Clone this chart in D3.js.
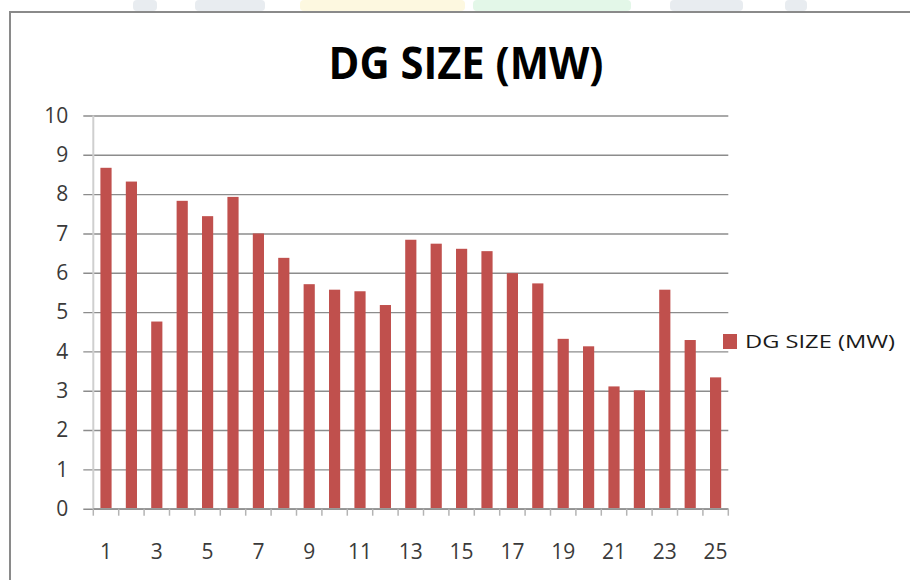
<!DOCTYPE html>
<html>
<head>
<meta charset="utf-8">
<script src="https://cdn.jsdelivr.net/npm/d3@7"></script>
<style>
    body { margin: 0; background: #fff; }
    svg { display: block; font-family: "Open Sans", "Noto Sans", sans-serif; }
</style>
</head>
<body>
<div id="svgContainer"></div>
<script>
var categories = [1, 2, 3, 4, 5, 6, 7, 8, 9, 10, 11, 12, 13, 14, 15, 16, 17, 18, 19, 20, 21, 22, 23, 24, 25]
var dgSize = [8.67, 8.32, 4.76, 7.83, 7.44, 7.93, 7.0, 6.38, 5.71, 5.57, 5.53, 5.18, 6.84,
    6.74, 6.61, 6.55, 5.99, 5.73, 4.32, 4.13, 3.11, 3.01, 5.57, 4.29, 3.34]
var yTicks = [0, 1, 2, 3, 4, 5, 6, 7, 8, 9, 10]
var xTickLabels = [1, 3, 5, 7, 9, 11, 13, 15, 17, 19, 21, 23, 25]
var seriesName = "DG SIZE (MW)"

function drawChart() {
    let width = 910, height = 580;
    var plot = { left: 93.3, right: 728.3, top: 115.5, bottom: 508.7 }
    var data = categories.map((c, i) => ({ cat: c, value: dgSize[i] }))

    var svg = d3.select("#svgContainer")
        .append("svg")
        .attr("width", width)
        .attr("height", height)
        .attr("viewBox", [0, 0, width, height]);

    // faded watermark pieces above the frame
    var marks = [
        { x: 133, w: 24, c: "#e8ecf0" }, { x: 195, w: 70, c: "#e8ecf0" },
        { x: 300, w: 165, c: "#fdf8e0" }, { x: 473, w: 158, c: "#e3f7e8" },
        { x: 670, w: 73, c: "#e8ecf0" }, { x: 785, w: 22, c: "#e8ecf0" }]
    svg.selectAll("rect.wm")
        .data(marks)
        .enter()
        .append("rect")
        .attr("class", "wm")
        .attr("x", d => d.x)
        .attr("y", 0)
        .attr("width", d => d.w)
        .attr("height", 11)
        .attr("rx", 4)
        .style("fill", d => d.c);

    // chart frame (runs off the right and bottom edges)
    svg.append("rect")
        .attr("x", 10)
        .attr("y", 12)
        .attr("width", 940)
        .attr("height", 620)
        .style("fill", "#fff")
        .style("stroke", "#8a8a8a")
        .style("stroke-width", 2);

    // title
    svg.append("text")
        .attr("x", 466)
        .attr("y", 79)
        .attr("text-anchor", "middle")
        .attr("textLength", 275)
        .attr("lengthAdjust", "spacingAndGlyphs")
        .style("font-size", "45px")
        .style("font-weight", "bold")
        .style("fill", "#000")
        .text(seriesName);

    //Scaling maps
    var xScale = d3.scaleBand()
        .domain(categories)
        .range([plot.left, plot.right])
        .paddingInner(0.56)
        .paddingOuter(0.28);
    var yScale = d3.scaleLinear()
        .domain([0, 10])
        .range([plot.bottom, plot.top]);

    // gridlines + y labels
    var yAxis = svg.append("g")
        .attr("class", "axis axis-y")
        .attr("transform", "translate(" + plot.left + ",0)")
        .call(d3.axisLeft(yScale).tickValues(yTicks).tickSize(-(plot.right - plot.left)).tickPadding(25));
    yAxis.select(".domain").remove();
    yAxis.selectAll(".tick line")
        .attr("x1", -10)
        .style("stroke", "#8c8c8c")
        .style("stroke-width", 1.4);
    yAxis.selectAll(".tick text")
        .style("font-size", "21px")
        .style("font-family", "'Open Sans', sans-serif")
        .style("fill", "#3a3a3a");

    // vertical axis line
    svg.append("line")
        .attr("x1", plot.left).attr("x2", plot.left)
        .attr("y1", plot.top).attr("y2", plot.bottom)
        .style("stroke", "#cfcfcf")
        .style("stroke-width", 2);

    //bars
    svg.selectAll("rect.bar")
        .data(data)
        .enter()
        .append("rect")
        .attr("class", "bar")
        .attr("x", d => xScale(d.cat))
        .attr("y", d => yScale(d.value))
        .attr("width", xScale.bandwidth())
        .attr("height", d => yScale(0) - yScale(d.value))
        .style("fill", "#c0504d");

    // x axis: ticks at category boundaries, labels on odd categories
    var step = xScale.step()
    var boundaries = d3.range(categories.length + 1).map(i => plot.left + i * step)
    svg.append("line")
        .attr("x1", plot.left).attr("x2", plot.right)
        .attr("y1", plot.bottom).attr("y2", plot.bottom)
        .style("stroke", "#9a9a9a")
        .style("stroke-width", 1.5);
    svg.selectAll("line.xtick")
        .data(boundaries)
        .enter()
        .append("line")
        .attr("class", "xtick")
        .attr("x1", d => d).attr("x2", d => d)
        .attr("y1", plot.bottom).attr("y2", plot.bottom + 7)
        .style("stroke", "#b4b4b4")
        .style("stroke-width", 1.5);
    svg.selectAll("text.xlab")
        .data(xTickLabels)
        .enter()
        .append("text")
        .attr("class", "xlab")
        .attr("x", d => xScale(d) + xScale.bandwidth() / 2)
        .attr("y", 559)
        .attr("text-anchor", "middle")
        .style("font-size", "21px")
        .style("fill", "#3a3a3a")
        .text(d => d);

    // legend
    var legend = svg.append("g").attr("transform", "translate(723,334)");
    legend.append("rect")
        .attr("width", 14)
        .attr("height", 15)
        .style("fill", "#c0504d");
    legend.append("text")
        .attr("x", 22)
        .attr("y", 14)
        .attr("textLength", 150)
        .attr("lengthAdjust", "spacingAndGlyphs")
        .style("font-size", "19px")
        .style("fill", "#1a1a1a")
        .text(seriesName);
}
drawChart();
</script>
</body>
</html>
